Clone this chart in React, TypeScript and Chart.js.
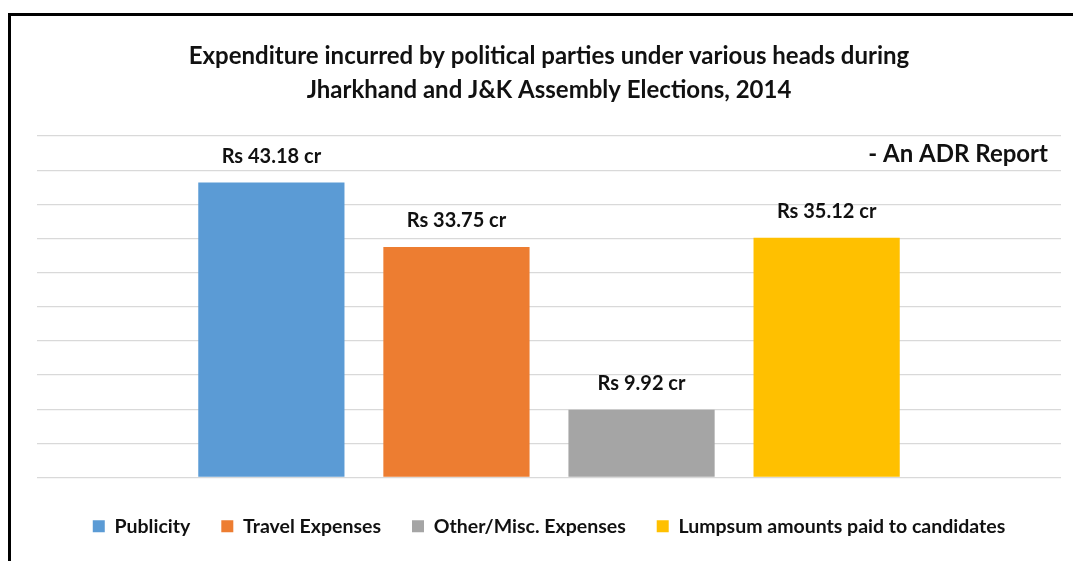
import React, { useEffect, useRef } from "react";
import { Chart, registerables } from "chart.js";

Chart.register(...registerables);

const titleLines = [
  "Expenditure incurred by political parties under various heads during",
  "Jharkhand and J&K Assembly Elections, 2014",
];
const subtitleText = "- An ADR Report";
const categories = [""];
const seriesNames = [
  "Publicity",
  "Travel Expenses",
  "Other/Misc. Expenses",
  "Lumpsum amounts paid to candidates",
];
const seriesValues = [43.18, 33.75, 9.92, 35.12];
const valueLabels = ["Rs 43.18 cr", "Rs 33.75 cr", "Rs 9.92 cr", "Rs 35.12 cr"];
const seriesColors = ["#5B9BD5", "#ED7D31", "#A5A5A5", "#FFC000"];

const FONT = "Lato, 'Open Sans', sans-serif";

const labelPlugin = {
  id: "valueLabels",
  afterDatasetsDraw(chart: any) {
    const ctx = chart.ctx;
    ctx.save();
    ctx.font = `bold 20px ${FONT}`;
    ctx.fillStyle = "#111";
    ctx.textAlign = "center";
    ctx.textBaseline = "middle";
    chart.data.datasets.forEach((ds: any, i: number) => {
      const meta = chart.getDatasetMeta(i);
      const el = meta.data[0];
      if (!el) return;
      ctx.fillText(valueLabels[i], el.x, el.y - 26);
    });
    ctx.font = `bold 24px ${FONT}`;
    ctx.textAlign = "right";
    ctx.fillText(subtitleText, chart.chartArea.right - 13, chart.chartArea.top + 18);
    ctx.restore();
  },
};

export default function App() {
  const ref = useRef<HTMLCanvasElement | null>(null);
  useEffect(() => {
    if (!ref.current) return;
    const chart = new Chart(ref.current, {
      type: "bar",
      data: {
        labels: categories,
        datasets: seriesNames.map((name, i) => ({
          label: name,
          data: [seriesValues[i]],
          backgroundColor: seriesColors[i],
          borderWidth: 0,
          categoryPercentage: 0.723,
          barPercentage: 0.79,
        })),
      },
      options: {
        animation: false,
        responsive: false,
        maintainAspectRatio: false,
        layout: { padding: { left: 37, right: 12, top: 0, bottom: 15 } },
        scales: {
          x: {
            display: true,
            grid: { display: false },
            border: { display: false },
            ticks: { display: false },
            afterFit: (s: any) => {
              s.height = 8;
            },
          },
          y: {
            min: 0,
            max: 50,
            ticks: { display: false, stepSize: 5 },
            border: { display: false },
            grid: { color: "#d9d9d9", lineWidth: 1.3, drawTicks: false },
          },
        },
        plugins: {
          tooltip: { enabled: false },
          title: {
            display: true,
            text: titleLines,
            color: "#111",
            font: { family: FONT, size: 24, weight: "bold", lineHeight: 1.417 },
            padding: { top: 39, bottom: 29 },
          },
          legend: {
            position: "bottom",
            labels: {
              color: "#111",
              font: { family: FONT, size: 19.5, weight: "bold" },
              boxWidth: 12,
              boxHeight: 12,
              padding: 31,
            },
          },
        },
      },
      plugins: [labelPlugin],
    });
    return () => chart.destroy();
  }, []);
  return (
    <>
      <canvas
        ref={ref}
        width={1073}
        height={561}
        style={{ position: "fixed", left: 0, top: 0, width: 1073, height: 561 }}
      />
      <div
        style={{
          position: "fixed",
          left: 8,
          top: 13,
          width: 1080,
          height: 580,
          border: "3px solid #000",
          pointerEvents: "none",
        }}
      />
    </>
  );
}
